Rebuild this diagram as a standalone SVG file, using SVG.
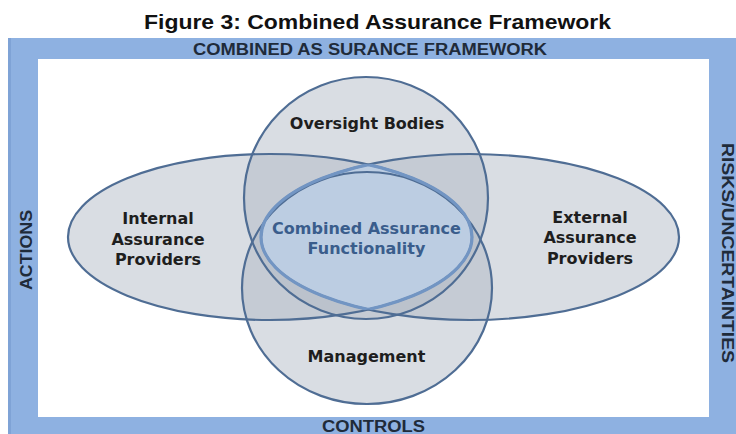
<svg xmlns="http://www.w3.org/2000/svg" width="736" height="434" viewBox="0 0 736 434">
  <defs>
    <style>
      .title { font-family: "Liberation Sans", Arial, sans-serif; font-weight: bold; font-size: 21px; fill: #111; }
      .frame-label { font-family: "Liberation Sans", Arial, sans-serif; font-weight: bold; font-size: 16px; fill: #1f2b3a; }
      .set { fill: rgb(176,183,196); fill-opacity: 0.48; stroke: none; }
      .outline { fill: none; stroke: #4f6d94; stroke-width: 2.2; }
      .lens-edge { fill: none; stroke: #7295c3; stroke-width: 3.2; }
      .label { font-family: "DejaVu Sans", Verdana, sans-serif; font-weight: bold; font-size: 16px; fill: #1e1e1e; text-anchor: middle; }
      .core { fill: #3a5d8c; }
    </style>
    <ellipse id="shape-internal" cx="270" cy="237" rx="202" ry="83"/>
    <ellipse id="shape-external" cx="470" cy="237" rx="209" ry="83"/>
    <ellipse id="shape-oversight" cx="366" cy="198" rx="122" ry="121"/>
    <ellipse id="shape-management" cx="367" cy="288" rx="125" ry="116"/>
    <clipPath id="clip-internal"><use href="#shape-internal"/></clipPath>
    <clipPath id="clip-external"><use href="#shape-external"/></clipPath>
  </defs>

  <!-- page background and heading -->
  <rect x="0" y="0" width="736" height="434" fill="#ffffff"/>
  <text class="title" x="377.5" y="29" text-anchor="middle" textLength="467" lengthAdjust="spacingAndGlyphs">Figure 3:  Combined Assurance Framework</text>

  <!-- blue border band with its four captions -->
  <g id="frame">
    <rect x="8" y="38" width="728" height="396" fill="#8eb1e1"/>
    <rect x="8" y="38" width="3" height="396" fill="#7fa3d6"/>
    <rect x="38" y="59" width="671" height="358" fill="#ffffff"/>
    <text class="frame-label" x="370" y="55" text-anchor="middle" textLength="354" lengthAdjust="spacingAndGlyphs">COMBINED AS SURANCE FRAMEWORK</text>
    <text class="frame-label" x="373.5" y="431.5" text-anchor="middle" font-size="15" textLength="103" lengthAdjust="spacingAndGlyphs">CONTROLS</text>
    <text class="frame-label" transform="translate(31.5,250) rotate(-90)" x="0" y="0" text-anchor="middle" font-size="18" textLength="80" lengthAdjust="spacingAndGlyphs">ACTIONS</text>
    <text class="frame-label" transform="translate(722,253) rotate(90)" x="0" y="0" text-anchor="middle" textLength="220" lengthAdjust="spacingAndGlyphs">RISKS/UNCERTAINTIES</text>
  </g>

  <!-- translucent fills: overlaps darken where sets meet -->
  <g id="fills">
    <use href="#shape-internal" class="set"/>
    <use href="#shape-external" class="set"/>
    <use href="#shape-oversight" class="set"/>
    <use href="#shape-management" class="set"/>
  </g>

  <!-- the shared core: intersection of the two provider ellipses -->
  <g id="combined">
    <g clip-path="url(#clip-external)">
      <use href="#shape-internal" fill="#bccde2"/>
    </g>
  </g>

  <g id="internal">
    <use href="#shape-internal" class="outline"/>
    <text class="label" x="158" y="224">Internal</text>
    <text class="label" x="158" y="245">Assurance</text>
    <text class="label" x="158" y="265">Providers</text>
  </g>

  <g id="external">
    <use href="#shape-external" class="outline"/>
    <text class="label" x="590" y="223">External</text>
    <text class="label" x="590" y="243">Assurance</text>
    <text class="label" x="590" y="264">Providers</text>
  </g>

  <g id="oversight">
    <use href="#shape-oversight" class="outline"/>
    <text class="label" x="367" y="129">Oversight Bodies</text>
  </g>

  <g id="management">
    <use href="#shape-management" class="outline"/>
    <text class="label" x="366.5" y="362">Management</text>
  </g>

  <!-- lighter rim around the core and its caption -->
  <g id="combined-rim">
    <g clip-path="url(#clip-external)"><use href="#shape-internal" class="lens-edge"/></g>
    <g clip-path="url(#clip-internal)"><use href="#shape-external" class="lens-edge"/></g>
    <text class="label core" x="366.5" y="234">Combined Assurance</text>
    <text class="label core" x="366.5" y="254">Functionality</text>
  </g>

  <g id="connectors"/>
</svg>
